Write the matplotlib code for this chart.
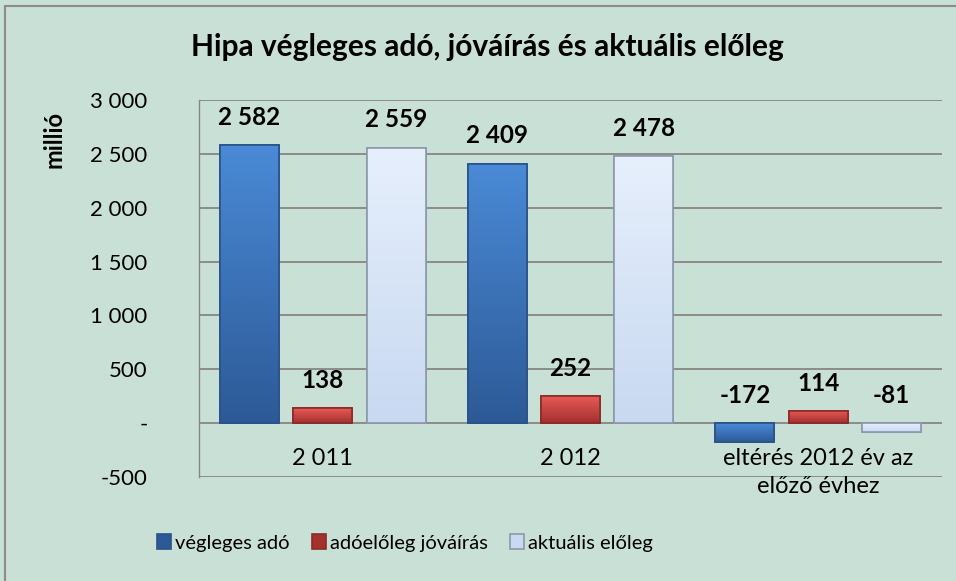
import matplotlib
matplotlib.use("Agg")
import matplotlib.pyplot as plt
from matplotlib.patches import Rectangle
from matplotlib.colors import LinearSegmentedColormap
import numpy as np

plt.rcParams['font.family'] = ['Lato', 'DejaVu Sans']

categories = ["2 011", "2 012", "eltérés 2012 év az\nelőző évhez"]
series_names = ["végleges adó", "adóelőleg jóváírás", "aktuális előleg"]
vegleges_ado = [2582, 2409, -172]
jovairas = [138, 252, 114]
aktualis_eloleg = [2559, 2478, -81]
y_ticks = [-500, 0, 500, 1000, 1500, 2000, 2500, 3000]

series = [vegleges_ado, jovairas, aktualis_eloleg]
face_colors = ["#3b74bb", "#d24c49", "#d3e2f7"]
grad_colors = [("#4a8ad6", "#2d5a97"), ("#e85b58", "#a3312e"), ("#e6effc", "#c8d9f1")]
edge_colors = ["#2a5289", "#8a2a28", "#8d99a8"]

W, H = 956, 581
fig = plt.figure(figsize=(W / 100, H / 100), dpi=100)
bg = "#c9e0d7"
fig.patch.set_facecolor(bg)

# outer border
fig.patches.append(Rectangle((5 / W, -0.05), 1.1, 1 - 6 / H + 0.05, transform=fig.transFigure,
                             fill=False, edgecolor="#8c8c8c", linewidth=1.5))

left, right, top, bottom = 199 / W, 942 / W, 1 - 100 / H, 1 - 477 / H
ax = fig.add_axes([left, bottom, right - left, top - bottom])
ax.set_facecolor(bg)

x = np.arange(len(categories))
width = 0.238
step = 0.296

def fmt(v):
    s = f"{abs(v):,}".replace(",", " ")
    return ("-" if v < 0 else "") + s

grad = np.linspace(0, 1, 64).reshape(-1, 1)
for i, (vals, fc, gc, ec, name) in enumerate(zip(series, face_colors, grad_colors, edge_colors, series_names)):
    xs = x + (i - 1) * step
    bars = ax.bar(xs, vals, width=width, color=fc, edgecolor=ec, linewidth=1.2, label=name, zorder=3)
    cmap = LinearSegmentedColormap.from_list(f"g{i}", [gc[0], gc[1]])
    for b in bars:
        bx, by = b.get_x(), b.get_y()
        bw, bh = b.get_width(), b.get_height()
        y0, y1 = min(by, by + bh), max(by, by + bh)
        im = ax.imshow(grad, cmap=cmap, aspect="auto", extent=(bx, bx + bw, y0, y1),
                       origin="upper", zorder=3.5, interpolation="bilinear")
        im.set_clip_path(b)
        b2 = Rectangle((bx, by), bw, bh, fill=False, edgecolor=ec, linewidth=1.2, zorder=4)
        ax.add_patch(b2)
    for xx, v in zip(xs, vals):
        ax.annotate(fmt(v), (xx, max(v, 0)), xytext=(0, 20), textcoords="offset points",
                    ha="center", va="center", fontsize=17.5, fontweight="bold", color="black")

ax.set_xlim(-0.5, 2.5)
ax.set_ylim(-500, 3000)
ax.set_yticks(y_ticks)
ax.set_yticklabels(["-" if t == 0 else fmt(t) for t in y_ticks], fontsize=16)
ax.tick_params(axis="y", length=0, pad=37)
ax.set_xticks([])
ax.grid(axis="y", color="#868686", linewidth=1.3, zorder=0)
for s in ["top", "right", "bottom"]:
    ax.spines[s].set_visible(False)
ax.spines["left"].set_color("#868686")
ax.spines["left"].set_linewidth(1.0)

for xi, cat in zip(x, categories):
    ax.annotate(cat, (xi, 0), xytext=(0, -18), textcoords="offset points",
                ha="center", va="top", fontsize=17, linespacing=1.4)

fig.text(487 / W, 1 - 47 / H, "Hipa végleges adó, jóváírás és aktuális előleg",
         ha="center", va="center", fontsize=21.5, fontweight="bold")
fig.text(54 / W, 1 - 139 / H, "millió", rotation=90, ha="center", va="center",
         fontsize=17, fontweight="bold")

leg = fig.legend(loc="center", bbox_to_anchor=(405 / W, 1 - 543 / H), ncol=3, frameon=False,
                 fontsize=14.5, handlelength=0.7, handleheight=0.7, handletextpad=0.2,
                 columnspacing=1.1)
for h, gc in zip(leg.legend_handles, grad_colors):
    h.set_facecolor(gc[1])

fig.savefig("out.png", dpi=100, facecolor=bg)
